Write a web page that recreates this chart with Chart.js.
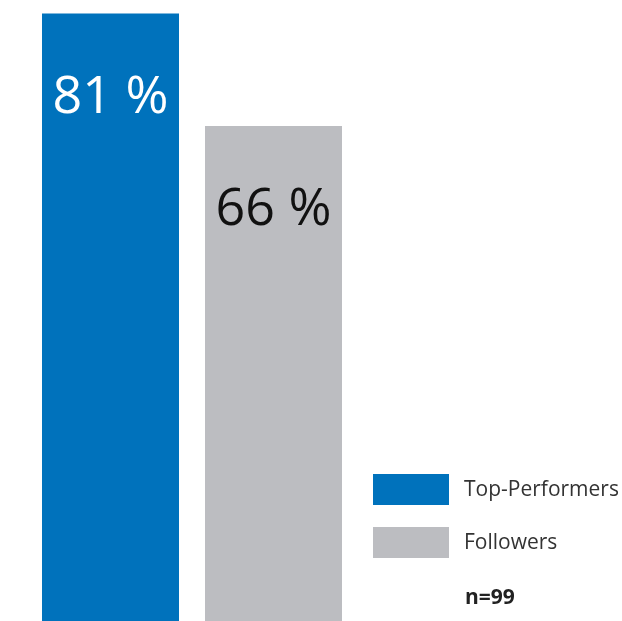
<!DOCTYPE html>
<html>
<head>
<meta charset="utf-8">
<script src="https://cdn.jsdelivr.net/npm/chart.js@4"></script>
<style>
  html, body { margin: 0; padding: 0; background: #fff; }
  canvas { display: block; }
</style>
</head>
<body>
<canvas id="chart" width="622" height="621"></canvas>
<script>
var categories = ['Top-Performers', 'Followers'];
var values = [81, 66];
var valueLabels = ['81 %', '66 %'];
var barColors = ['#0072bc', '#bcbdc1'];
var labelColors = ['#ffffff', '#111111'];
var sampleNote = 'n=99';

// value labels inside the bars + legend at the lower right
var overlay = {
    id: 'overlay',
    afterDatasetsDraw: function(chart) {
        var ctx = chart.ctx;
        var meta = chart.getDatasetMeta(0);
        ctx.save();
        ctx.textAlign = 'center';
        ctx.textBaseline = 'alphabetic';
        ctx.font = '52px "Open Sans"';
        meta.data.forEach(function(bar, i) {
            ctx.fillStyle = labelColors[i];
            ctx.fillText(valueLabels[i], bar.x, bar.y + 99);
        });

        ctx.textAlign = 'left';
        ctx.textBaseline = 'middle';
        categories.forEach(function(c, i) {
            var y = 474 + i * 53;
            ctx.fillStyle = barColors[i];
            ctx.fillRect(373, y, 76, 31);
            ctx.fillStyle = '#333333';
            ctx.font = '21px "Open Sans"';
            ctx.fillText(c, 464, y + 16);
        });
        ctx.font = 'bold 21px "Open Sans"';
        ctx.fillStyle = '#222222';
        ctx.fillText(sampleNote, 465, 598);
        ctx.restore();
    }
};

var ctx = document.getElementById('chart').getContext('2d');
var chart = new Chart(ctx, {
    type: 'bar',
    data: {
        labels: categories,
        datasets: [{
            data: values,
            backgroundColor: barColors,
            borderWidth: 0,
            categoryPercentage: 1,
            barPercentage: 0.8405
        }]
    },
    options: {
        responsive: false,
        animation: false,
        layout: { padding: { left: 29, right: 267, top: 0, bottom: 0 } },
        plugins: {
            legend: { display: false },
            tooltip: { enabled: false }
        },
        scales: {
            x: { display: false },
            y: { display: false, min: 0, max: 82.8 }
        }
    },
    plugins: [overlay]
});
</script>
</body>
</html>
